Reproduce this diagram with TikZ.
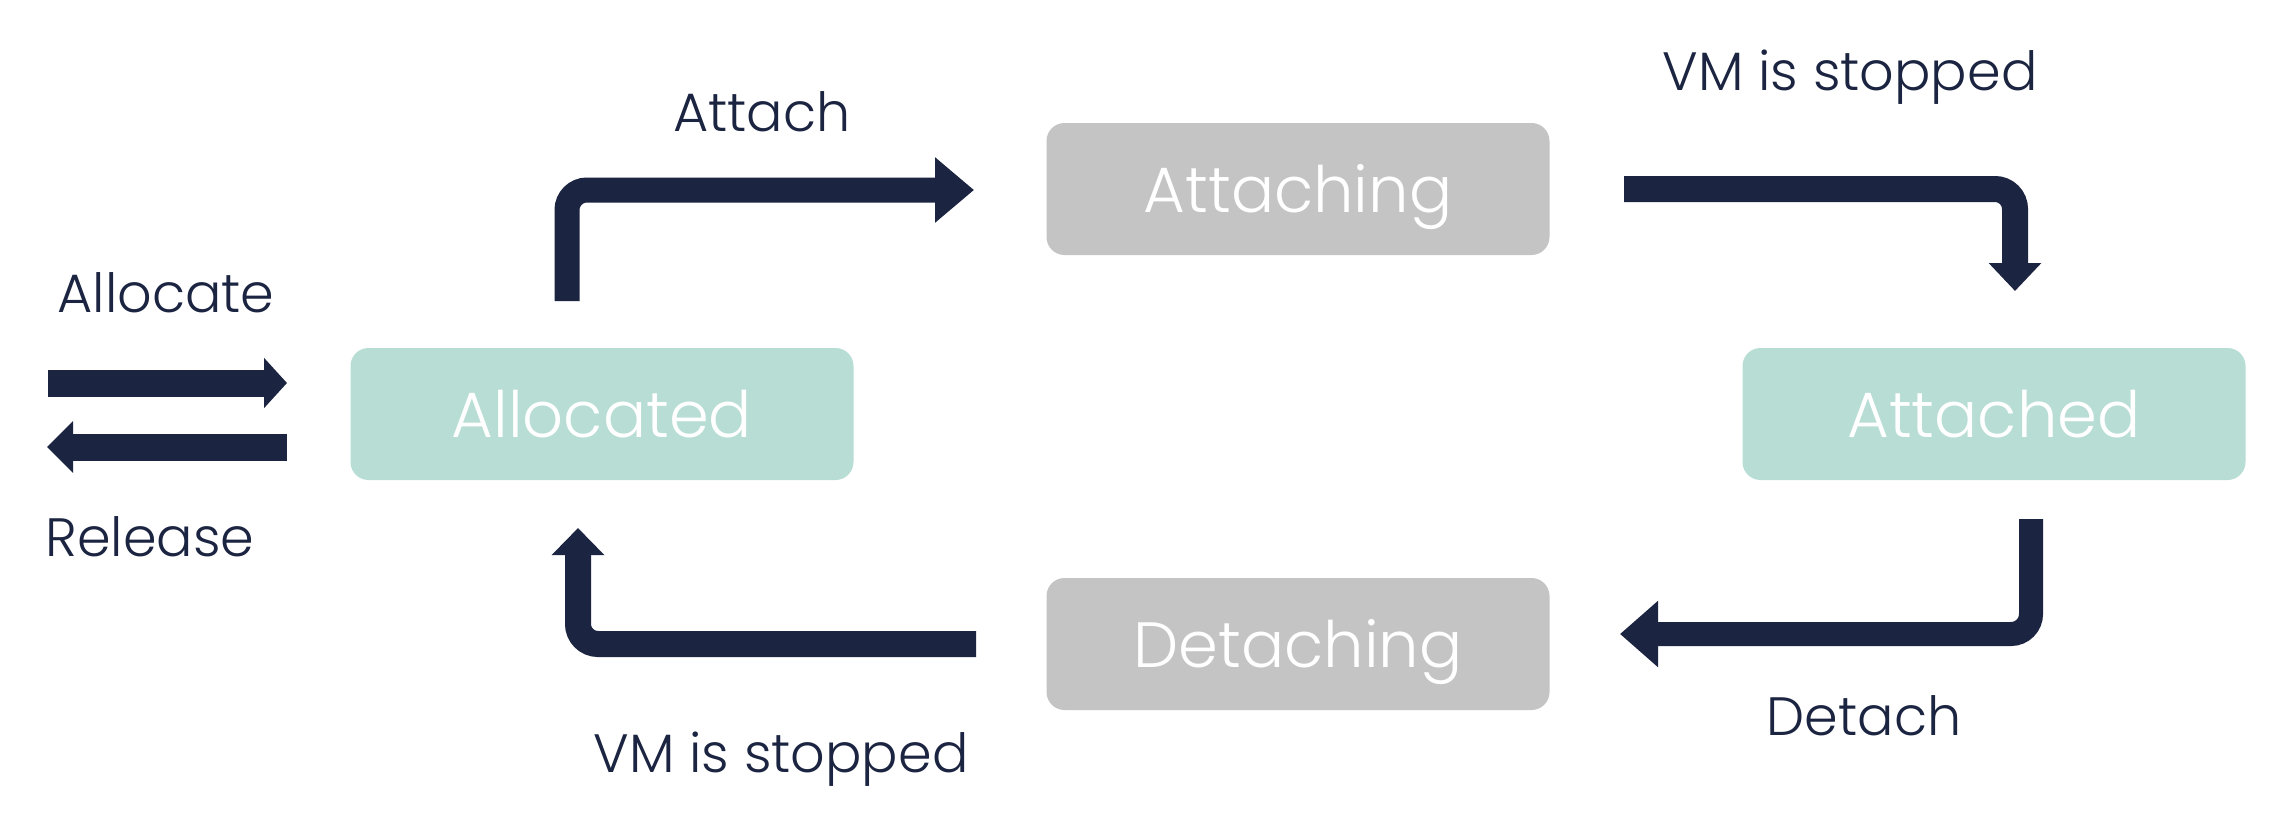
\documentclass[tikz,border=0pt]{standalone}
\usepackage{fontspec}
\setmainfont{Poppins}[UprightFont=* Light]
\usetikzlibrary{arrows.meta}
\definecolor{navy}{HTML}{1B2440}
\definecolor{mint}{HTML}{B8DDD4}
\definecolor{greybox}{HTML}{C4C4C4}
\begin{document}
\begin{tikzpicture}[x=1pt,y=-1pt,
  state/.style={rounded corners=18pt, minimum width=503pt, minimum height=132pt,
    text=white, font=\fontsize{64}{70}\selectfont, inner sep=0pt,
    text height=46pt, text depth=0pt},
  lbl/.style={text=navy, font=\fontsize{54}{60}\selectfont, anchor=base, inner sep=0pt},
  flow/.style={draw=navy, line width=25pt, rounded corners=20pt, line cap=butt}]
\useasboundingbox[fill=white] (0,0) rectangle (2282,822);

\node[state, fill=mint] (allocated) at (602,414) {Allocated};
\node[state, fill=greybox] (attaching) at (1298,189) {Attaching};
\node[state, fill=mint] (attached) at (1994,414) {Attached};
\node[state, fill=greybox] (detaching) at (1298,644) {Detaching};

\coordinate (alS) at (48,383);
\coordinate (alE) at (287,383);
\coordinate (reS) at (287,447);
\coordinate (reE) at (47,447);
\coordinate (atS) at (567,301);
\coordinate (atE) at (974,190);
\coordinate (vtS) at (1624,189);
\coordinate (vtE) at (2015,291);
\coordinate (deS) at (2031,519);
\coordinate (deE) at (1620,634);
\coordinate (vbS) at (976,644);
\coordinate (vbE) at (578,528);

\draw[flow, line width=27pt, -{Triangle[length=23pt,width=49pt]}] (alS) -- (alE);
\draw[flow, line width=27pt, -{Triangle[length=26pt,width=50pt]}] (reS) -- (reE);
\draw[flow, -{Triangle[length=39pt,width=63pt]}] (atS) |- (atE);
\draw[flow, line width=26pt, -{Triangle[length=28pt,width=51pt]}] (vtS) -| (vtE);
\draw[flow, line width=24pt, -{Triangle[length=38pt,width=64pt]}] (deS) |- (deE);
\draw[flow, line width=26pt, -{Triangle[length=27pt,width=51pt]}] (vbS) -| (vbE);

\node[lbl] (lAllocate) at (166,312) {Allocate};
\node[lbl] (lRelease) at (150,556) {Release};
\node[lbl] (lAttach) at (762,131) {Attach};
\node[lbl] (lVMtop) at (1850,90) {VM is stopped};
\node[lbl] (lDetach) at (1864,735) {Detach};
\node[lbl] (lVMbot) at (781,772) {VM is stopped};
\end{tikzpicture}
\end{document}
